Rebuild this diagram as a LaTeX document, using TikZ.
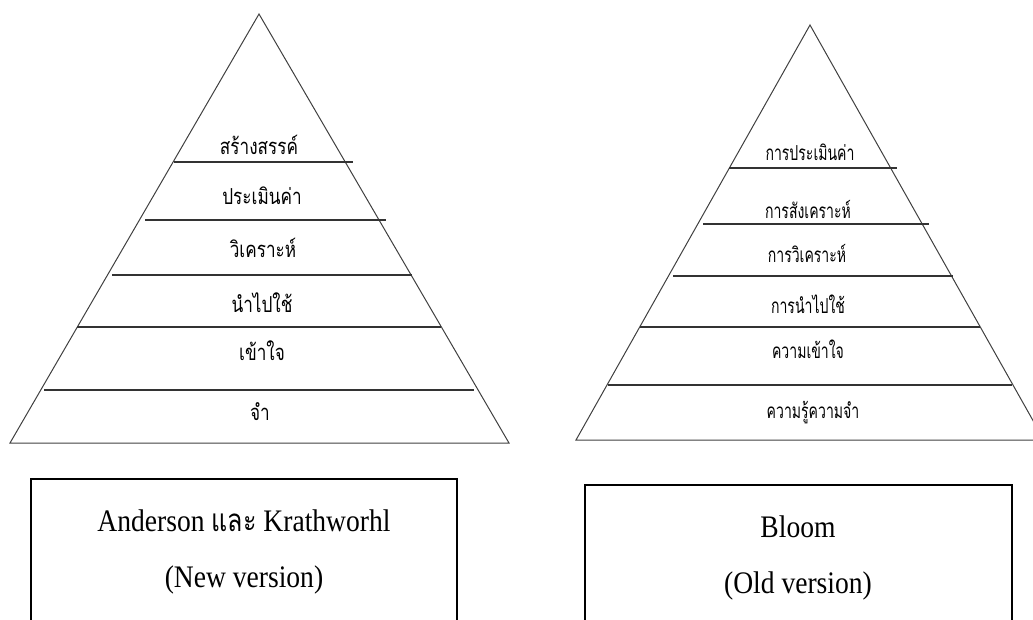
\documentclass[tikz,border=0pt]{standalone}
\usepackage{fontspec}
\setmainfont{Liberation Serif}[FakeStretch=0.88]
\newfontfamily\thaifont[Script=Thai,FakeStretch=0.78]{Loma}
\newfontfamily\thaiboxfont[Script=Thai,FakeStretch=0.8]{Loma}
\newfontfamily\thainarrow[Script=Thai,FakeStretch=0.68]{Loma}
\begin{document}
\begin{tikzpicture}[x=0.75pt,y=-0.75pt,
  tier/.style={draw=black!80,line width=0.8pt},
  edge/.style={draw=black!75,line width=0.75pt,line join=miter},
  lbl/.style={anchor=base,inner sep=0pt,font=\thaifont\fontsize{16.5}{18}\selectfont},
  rlbl/.style={anchor=base,inner sep=0pt,font=\thainarrow\fontsize{15.5}{17}\selectfont},
  caption/.style={draw=black,line width=1.1pt},
  captext/.style={anchor=base,inner sep=0pt,font=\fontsize{23.5}{26}\selectfont}]
\useasboundingbox (0,0) rectangle (1033,619);
\clip (0,0) rectangle (1033,619);
% left pyramid
\draw[edge] (10,443) -- (259,14) -- (509,443) -- cycle;
\draw[tier] (174,162) -- (353,162);
\draw[tier] (145,220) -- (386,220);
\draw[tier] (112,275) -- (412,275);
\draw[tier] (77,327) -- (441,327);
\draw[tier] (44,390) -- (474,390);
\node[lbl] (l1) at (259,154) {สร้างสรรค์};
\node[lbl] (l2) at (262,204) {ประเมินค่า};
\node[lbl] (l3) at (263,257) {วิเคราะห์};
\node[lbl] (l4) at (262,312) {นำไปใช้};
\node[lbl] (l5) at (262,360) {เข้าใจ};
\node[lbl] (l6) at (260,420) {จำ};
% right pyramid
\draw[edge] (576,440) -- (810,25) -- (1044,440) -- cycle;
\draw[tier] (729,168) -- (897,168);
\draw[tier] (703,224) -- (929,224);
\draw[tier] (673,276) -- (953,276);
\draw[tier] (640,327) -- (980,327);
\draw[tier] (608,385) -- (1012,385);
\node[rlbl] (r1) at (810,160) {การประเมินค่า};
\node[rlbl] (r2) at (808,218) {การสังเคราะห์};
\node[rlbl] (r3) at (807,262) {การวิเคราะห์};
\node[rlbl] (r4) at (808,313) {การนำไปใช้};
\node[rlbl] (r5) at (808,358) {ความเข้าใจ};
\node[rlbl] (r6) at (813,418) {ความรู้ความจำ};
% caption boxes (bottom edge outside the picture)
\draw[caption] (31,640) -- (31,479) -- (457,479) -- (457,640);
\draw[caption] (585,640) -- (585,485) -- (1012,485) -- (1012,640);
\node[captext] (c1) at (244,531) {Anderson {\thaiboxfont และ} Krathworhl};
\node[captext] (c2) at (244,587) {(New version)};
\node[captext] (c3) at (798,537) {Bloom};
\node[captext] (c4) at (798,593) {(Old version)};
\end{tikzpicture}
\end{document}
